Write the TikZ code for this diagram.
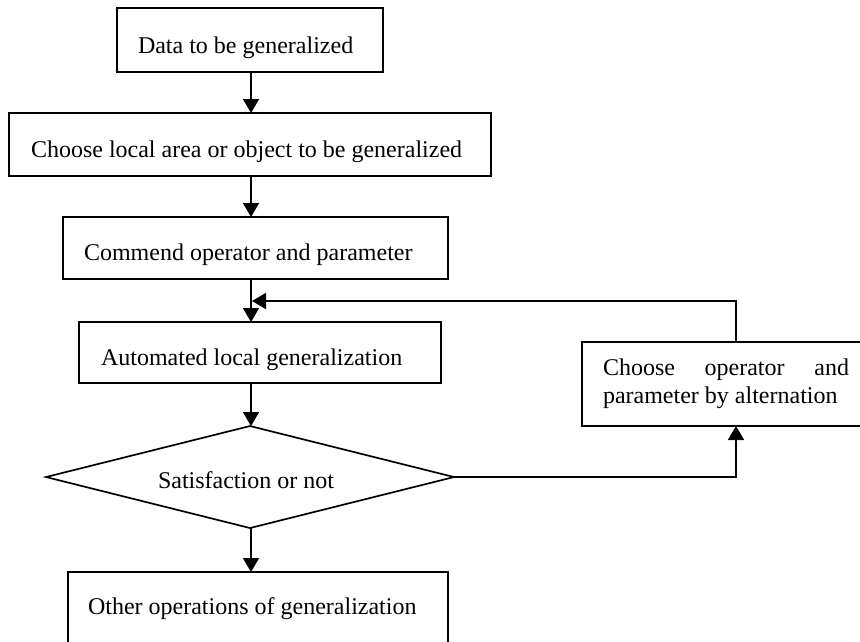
\documentclass[tikz,border=0pt]{standalone}
\usepackage{fontspec}
\setmainfont{Liberation Serif}
\usetikzlibrary{arrows.meta,shapes.geometric}
\begin{document}
\begin{tikzpicture}[x=1pt,y=-1pt,
  flow/.style={draw, line width=1.7pt, rectangle, inner sep=0pt, outer sep=0pt},
  decision/.style={draw, line width=1.7pt, diamond, inner sep=0pt, outer sep=0pt},
  lbl/.style={anchor=base west, inner sep=0pt, outer sep=0pt, font=\fontsize{24}{28}\selectfont},
  link/.style={line width=1.7pt, -{Triangle[width=16pt,length=14pt]}}]
\useasboundingbox (0,0) rectangle (860,641);
\clip (0,0) rectangle (860,641);

% process boxes
\node[flow, minimum width=266pt, minimum height=64pt] (b1) at (250,40) {};
\node[flow, minimum width=482pt, minimum height=63pt] (b2) at (250,144.5) {};
\node[flow, minimum width=385pt, minimum height=62pt] (b3) at (255.5,248) {};
\node[flow, minimum width=362pt, minimum height=61pt] (b4) at (260,352.5) {};
\node[flow, minimum width=288pt, minimum height=84pt] (b5) at (726,384) {};
\node[flow, minimum width=380pt, minimum height=88pt] (b6) at (258,616) {};
\node[decision, minimum width=408pt, minimum height=102pt] (d) at (250,477) {};

% box texts
\node[lbl] (t1) at (138,53) {Data to be generalized};
\node[lbl] (t2) at (31,157) {Choose local area or object to be generalized};
\node[lbl] (t3) at (84,260) {Commend operator and parameter};
\node[lbl] (t4) at (101,365) {Automated local generalization};
\node[lbl] (td) at (158,488) {Satisfaction or not};
\node[lbl] (t5a) at (603,375) {\hbox to 246pt{Choose\hfill operator\hfill and}};
\node[lbl] (t5b) at (603,403) {parameter by alternation};
\node[lbl] (t6) at (88,614) {Other operations of generalization};

% main axis and feedback loop
\coordinate (axis) at (251,0);
\coordinate (loop) at (736,301);

\draw[link] (b1.south -| axis) -- (b2.north -| axis);
\draw[link] (b2.south -| axis) -- (b3.north -| axis);
\draw[link] (b3.south -| axis) -- (b4.north -| axis);
\draw[link] (b4.south -| axis) -- (d.north -| axis);
\draw[link] (d.south -| axis) -- (b6.north -| axis);
\draw[link] (d.east) -| (b5.south -| loop);
\draw[link, shorten >=1pt] (b5.north -| loop) |- (axis |- loop);
\end{tikzpicture}
\end{document}
